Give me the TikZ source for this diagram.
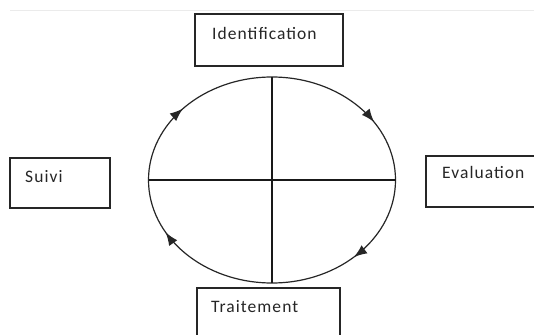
\documentclass[tikz,border=0pt]{standalone}
\usepackage{fontspec}
\setmainfont{Carlito}[LetterSpace=6]
\usetikzlibrary{arrows.meta,decorations.markings}
\begin{document}
\begin{tikzpicture}[x=1pt,y=1pt,
  box/.style={draw=black!85,line width=1.1pt,fill=none},
  lbl/.style={anchor=west,inner sep=0pt,text=black!85,font=\fontsize{17.5}{19}\selectfont},
  ring/.style={draw=black!85,line width=1.2pt},
  cross/.style={draw=black!90,line width=1.1pt}]
\clip (0,0) rectangle (534,-334);
\useasboundingbox (0,0) rectangle (534,-334);
\fill[white] (0,0) rectangle (534,-334);
\draw[black!8,line width=0.8pt] (10,-10) -- (534,-10);
% boxes
\draw[box] (195,-14) rectangle (343,-66);
\node[lbl] (tid) at (212,-33) {Identification};
\draw[box] (10,-158) rectangle (110,-208);
\node[lbl] (tsu) at (25,-177) {Suivi};
\draw[box] (426,-156) rectangle (540,-207);
\node[lbl] (tev) at (442,-172) {Evaluation};
\draw[box] (197,-288) rectangle (340,-340);
\node[lbl] (ttr) at (211,-307) {Traitement};
% cycle
\coordinate (c) at (272,-180);
\coordinate (top) at (272,-77);
\coordinate (bot) at (272,-283);
\coordinate (lft) at (148.5,-180);
\coordinate (rgt) at (395.5,-180);
\draw[ring,postaction={decorate},decoration={markings,
   mark=at position 0.088 with {\arrowreversed[scale=1.6]{Latex}},
   mark=at position 0.385 with {\arrowreversed[scale=1.6]{Latex}},
   mark=at position 0.578 with {\arrowreversed[scale=1.6]{Latex}},
   mark=at position 0.872 with {\arrowreversed[scale=1.6]{Latex}}}]
  (c) ellipse [x radius=123.5,y radius=103];
\draw[cross] (top) -- (bot);
\draw[cross] (lft) -- (rgt);
\end{tikzpicture}
\end{document}
